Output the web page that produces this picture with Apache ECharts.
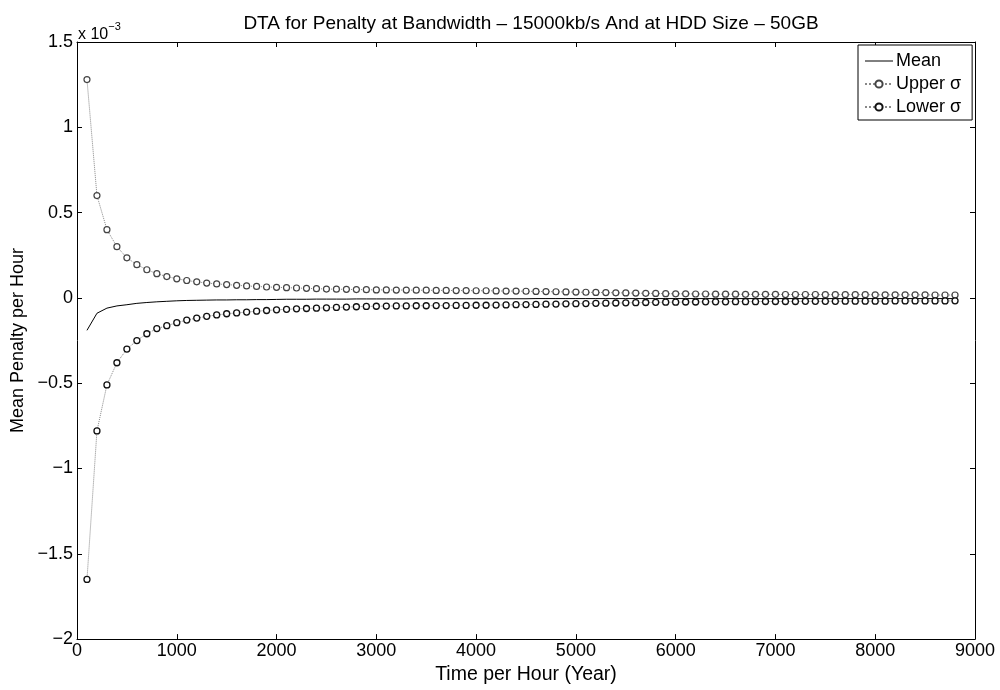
<!DOCTYPE html>
<html>
<head>
<meta charset="utf-8">
<script src="https://cdn.jsdelivr.net/npm/echarts@6/dist/echarts.min.js"></script>
<style>html,body{margin:0;padding:0;background:#fff}#c{width:1000px;height:690px}</style>
</head>
<body>
<div id="c"></div>
<script>
// Values in units of 1e-3 (axis shows "x 10^-3")
var hours = [100,200,300,400,500,600,700,800,900,1000,
  1100,1200,1300,1400,1500,1600,1700,1800,1900,2000,
  2100,2200,2300,2400,2500,2600,2700,2800,2900,3000,
  3100,3200,3300,3400,3500,3600,3700,3800,3900,4000,
  4100,4200,4300,4400,4500,4600,4700,4800,4900,5000,
  5100,5200,5300,5400,5500,5600,5700,5800,5900,6000,
  6100,6200,6300,6400,6500,6600,6700,6800,6900,7000,
  7100,7200,7300,7400,7500,7600,7700,7800,7900,8000,
  8100,8200,8300,8400,8500,8600,8700,8800];
var meanVals = [-0.19,-0.09,-0.06,-0.047,-0.04,-0.032,-0.027,-0.023,-0.02,-0.017,
  -0.015,-0.014,-0.013,-0.012,-0.012,-0.011,-0.011,-0.010,-0.010,-0.009,
  -0.008,-0.008,-0.008,-0.007,-0.007,-0.007,-0.007,-0.006,-0.006,-0.006,
  -0.006,-0.006,-0.006,-0.005,-0.005,-0.005,-0.005,-0.005,-0.005,-0.005,
  -0.005,-0.005,-0.005,-0.005,-0.005,-0.004,-0.004,-0.004,-0.004,-0.004,
  -0.004,-0.004,-0.004,-0.004,-0.004,-0.004,-0.004,-0.004,-0.004,-0.004,
  -0.004,-0.004,-0.004,-0.004,-0.004,-0.004,-0.004,-0.004,-0.004,-0.004,
  -0.004,-0.004,-0.004,-0.004,-0.004,-0.004,-0.004,-0.004,-0.004,-0.004,
  -0.004,-0.004,-0.004,-0.004,-0.004,-0.004,-0.004,-0.004];
var upperVals = [1.28,0.60,0.40,0.30,0.235,0.195,0.165,0.142,0.125,0.112,
  0.102,0.094,0.087,0.082,0.078,0.074,0.070,0.067,0.064,0.062,
  0.060,0.058,0.056,0.054,0.052,0.051,0.050,0.049,0.048,0.047,
  0.047,0.046,0.046,0.045,0.045,0.044,0.044,0.043,0.043,0.042,
  0.042,0.041,0.040,0.040,0.039,0.038,0.037,0.036,0.035,0.034,
  0.033,0.032,0.031,0.030,0.029,0.028,0.027,0.026,0.025,0.024,
  0.024,0.023,0.023,0.022,0.022,0.022,0.021,0.021,0.021,0.021,
  0.020,0.020,0.020,0.020,0.019,0.019,0.019,0.019,0.019,0.018,
  0.018,0.018,0.018,0.018,0.018,0.017,0.017,0.017];
var lowerVals = [-1.65,-0.78,-0.51,-0.38,-0.30,-0.25,-0.21,-0.18,-0.163,-0.145,
  -0.130,-0.118,-0.108,-0.100,-0.093,-0.088,-0.083,-0.078,-0.074,-0.070,
  -0.067,-0.064,-0.062,-0.060,-0.058,-0.056,-0.054,-0.052,-0.050,-0.049,
  -0.048,-0.047,-0.047,-0.046,-0.046,-0.045,-0.045,-0.044,-0.044,-0.043,
  -0.043,-0.042,-0.041,-0.040,-0.039,-0.038,-0.037,-0.036,-0.035,-0.034,
  -0.033,-0.032,-0.031,-0.030,-0.029,-0.028,-0.027,-0.026,-0.025,-0.025,
  -0.024,-0.024,-0.023,-0.023,-0.023,-0.022,-0.022,-0.022,-0.021,-0.021,
  -0.021,-0.021,-0.020,-0.020,-0.020,-0.020,-0.019,-0.019,-0.019,-0.019,
  -0.019,-0.018,-0.018,-0.018,-0.018,-0.018,-0.018,-0.017];

var titleText = 'DTA for Penalty at Bandwidth \u2013 15000kb/s And at HDD Size \u2013 50GB';
var xName = 'Time per Hour (Year)';
var yName = 'Mean Penalty per Hour';

function pairs(vals){ return hours.map(function(h,i){ return [h, vals[i]]; }); }

var FONT = 'Liberation Sans';
var chart = echarts.init(document.getElementById('c'), null, {renderer:'canvas'});
var axisCommon = {
  axisLine:{show:true, onZero:false, lineStyle:{color:'#000', width:1}},
  axisTick:{show:true, inside:true, length:5, lineStyle:{color:'#000'}},
  splitLine:{show:false}
};
chart.setOption({
  animation:false,
  backgroundColor:'#fff',
  textStyle:{fontFamily:FONT},
  title:{text:titleText, left:526, textAlign:'center', top:9,
    textStyle:{fontFamily:FONT, fontSize:19, fontWeight:'normal', color:'#000'}},
  grid:{left:77, right:25, top:42, bottom:46, containLabel:false},
  legend:{
    orient:'vertical', left:858, top:45,
    backgroundColor:'#fff', borderColor:'#000', borderWidth:1,
    padding:[7,11,4,6], itemGap:5, itemWidth:28, itemHeight:9,
    textStyle:{fontFamily:FONT, fontSize:18, color:'#000', padding:[0,0,0,-2]},
    data:[
      {name:'Mean', itemStyle:{color:'rgba(0,0,0,0)', borderColor:'rgba(0,0,0,0)', borderWidth:0},
        lineStyle:{width:1}},
      'Upper \u03c3','Lower \u03c3']
  },
  xAxis:[
    Object.assign({type:'value', min:0, max:9000, interval:1000, position:'bottom',
      name:xName, nameLocation:'middle', nameGap:24,
      nameTextStyle:{fontFamily:FONT, fontSize:19.5, color:'#000'},
      axisLabel:{margin:3, fontFamily:FONT, fontSize:18, color:'#000',
        formatter:function(v){ return String(v); }}}, axisCommon),
    Object.assign({type:'value', min:0, max:9000, interval:1000, position:'top',
      axisLabel:{show:false}}, axisCommon)
  ],
  yAxis:[
    Object.assign({type:'value', min:-2, max:1.5, interval:0.5, position:'left',
      name:yName, nameLocation:'middle', nameGap:47, nameRotate:90,
      nameTextStyle:{fontFamily:FONT, fontSize:18, color:'#000'},
      axisLabel:{margin:4, fontFamily:FONT, fontSize:18, color:'#000',
        formatter:function(v){ return String(v).replace('-', '\u2212'); }}}, axisCommon),
    Object.assign({type:'value', min:-2, max:1.5, interval:0.5, position:'right',
      axisLabel:{show:false}}, axisCommon)
  ],
  graphic:[{
    type:'text', left:78, top:21,
    style:{
      text:'{a|x 10}{b|\u22123}',
      rich:{
        a:{fontFamily:FONT, fontSize:16, fill:'#000', verticalAlign:'bottom', padding:[6,0,0,0]},
        b:{fontFamily:FONT, fontSize:11, fill:'#000', verticalAlign:'top'}
      }
    }
  }],
  series:[
    {name:'Mean', type:'line', data:pairs(meanVals), showSymbol:false, symbol:'none',
      lineStyle:{color:'#000', width:1}, itemStyle:{color:'#000'}},
    {name:'Upper \u03c3', type:'line', data:pairs(upperVals), symbol:'circle', symbolSize:6,
      lineStyle:{color:'#888', width:1, type:'dotted'},
      itemStyle:{color:'#fff', borderColor:'#444', borderWidth:1.2}},
    {name:'Lower \u03c3', type:'line', data:pairs(lowerVals), symbol:'circle', symbolSize:6,
      lineStyle:{color:'#888', width:1, type:'dotted'},
      itemStyle:{color:'#fff', borderColor:'#111', borderWidth:1.3}}
  ]
});
</script>
</body>
</html>
